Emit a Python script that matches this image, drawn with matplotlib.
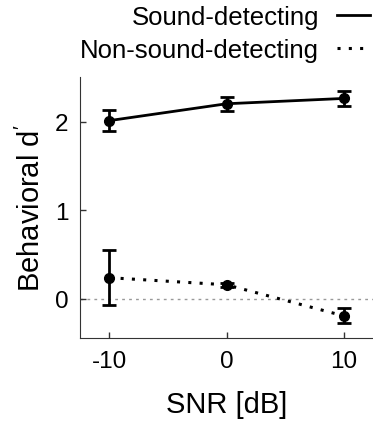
import numpy as np
import matplotlib
matplotlib.use('Agg')
import matplotlib.pyplot as plt
from matplotlib.lines import Line2D

plt.rcParams['font.family'] = ['Liberation Sans', 'DejaVu Sans']
plt.rcParams['mathtext.fontset'] = 'custom'
plt.rcParams['mathtext.rm'] = 'Liberation Sans'
plt.rcParams['mathtext.it'] = 'Liberation Sans'

snr = [-10, 0, 10]
sound_mean = [2.01, 2.20, 2.26]
sound_err = [0.12, 0.08, 0.08]
nonsound_mean = [0.24, 0.16, -0.19]
nonsound_err = [0.31, 0.02, 0.085]

dot_style = (0, (1, 2.7))

fig = plt.figure(figsize=(3.73, 4.27), dpi=100)
ax = fig.add_axes([0.2145, 0.206, 0.7855, 0.611])

ax.axhline(0, color='#999999', lw=1, linestyle=(0, (2, 3)), zorder=0)

ax.errorbar(snr, sound_mean, yerr=sound_err, color='black', lw=2, marker='o',
            ms=7, elinewidth=2, capsize=5, capthick=2)
ax.errorbar(snr, nonsound_mean, yerr=nonsound_err, color='black', lw=2.2,
            linestyle=dot_style, marker='o', ms=7, elinewidth=2,
            capsize=5, capthick=2)

ax.set_xlim(-12.5, 12.5)
ax.set_ylim(-0.44, 2.5)
ax.set_xticks(snr)
ax.set_xticklabels(['-10', '0', '10'])
ax.set_yticks([0, 1, 2])
ax.tick_params(direction='in', length=4, width=1, labelsize=17.5,
               color='#333333', pad=8.5)
for s in ['top', 'right']:
    ax.spines[s].set_visible(False)
for s in ['left', 'bottom']:
    ax.spines[s].set_color('#333333')
ax.set_xlabel('SNR [dB]', fontsize=21, labelpad=13)
ax.set_ylabel(r"Behavioral d$^\prime$", fontsize=21, labelpad=6)

handles = [Line2D([], [], color='black', lw=2),
           Line2D([], [], color='black', lw=2.2, linestyle=dot_style)]
labels = ['Sound-detecting', 'Non-sound-detecting']
fig.legend(handles, labels, loc='upper right', bbox_to_anchor=(1.0, 0.993),
           frameon=False, markerfirst=False, fontsize=18.5, handlelength=1.3,
           handletextpad=0.7, labelspacing=0.35, borderaxespad=0.0, borderpad=0.1)

fig.savefig('out.png', dpi=100)
